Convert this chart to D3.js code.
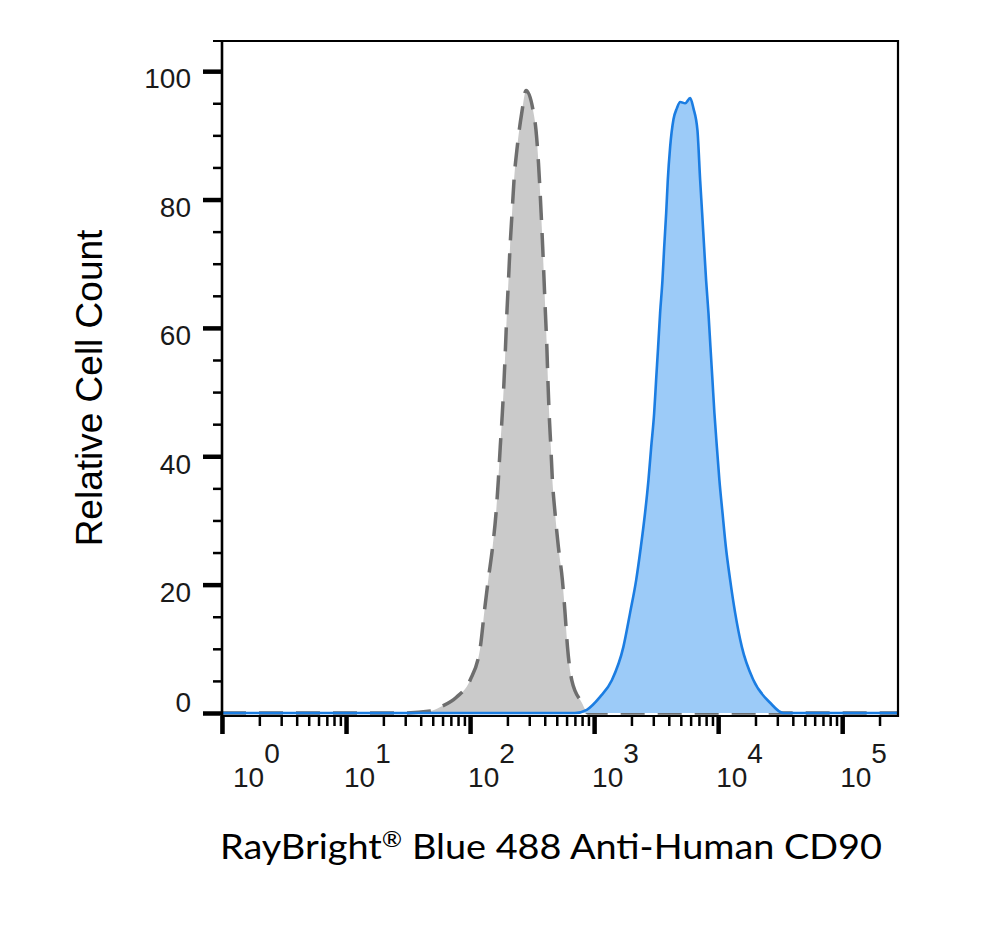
<!DOCTYPE html>
<html>
<head>
<meta charset="utf-8">
<script src="https://cdn.jsdelivr.net/npm/d3@7"></script>
<style>
  body { margin: 0; background: #fff; }
  svg { display: block; }
</style>
</head>
<body>
<script>
// intensity (channel value) and relative count
const isoX = [1, 27, 48, 57, 78, 100, 121, 130, 140, 152, 162, 169, 175, 182, 188, 193, 198, 204, 210, 218, 226, 240, 261, 283,
  322, 340, 356, 374, 385, 395, 405, 416, 424, 434, 448, 461, 484, 515, 555, 583, 610, 661, 796, 895, 282000];
const isoY = [0, 0, 0.3, 0.9, 2.5, 5.1, 10.3, 15.6, 20.7, 25.9, 31.2, 36.3, 41.4, 46.7, 51.9, 57.0, 62.3, 67.4, 72.6, 77.9, 83.0, 88.2, 93.5, 97.0,
  93.9, 90.8, 85.7, 77.9, 72.6, 67.4, 62.3, 57.0, 51.9, 46.7, 41.4, 36.3, 31.2, 25.9, 20.7, 15.6, 10.3, 5.1, 1.6, 0, 0];

const cd90X = [1, 700, 873, 1117, 1390, 1722, 1950, 2183, 2382, 2576, 2742, 2884, 3048, 3162, 3281, 3404, 3556, 3673, 3811, 3926, 4102, 4365,
  4645, 4940, 5420, 5945, 6324, 6808, 7161, 7430, 7709, 7998, 8356, 8670, 8995, 9333, 9772, 10233, 10839, 11535, 12503, 13709, 15524, 19275,
  26242, 33420, 282000];
const cd90Y = [0, 0, 0.5, 2.5, 5.1, 10.3, 15.6, 20.7, 25.9, 31.2, 36.3, 41.4, 46.7, 51.9, 57.0, 62.3, 67.4, 72.6, 77.9, 83.0, 88.2, 92.5,
  94.2, 95.2, 95.0, 95.8, 94.2, 90.8, 83.0, 77.9, 72.6, 67.4, 62.3, 57.0, 51.9, 46.7, 41.4, 36.3, 31.2, 25.9, 20.7, 15.6, 10.3, 5.1,
  1.6, 0, 0];

const yMajor = [0, 20, 40, 60, 80, 100];
const xDecades = [0, 1, 2, 3, 4, 5];
const xTitle = 'Blue 488 Anti-Human CD90';
const yTitle = 'Relative Cell Count';

const width = 1000, height = 936;
const plotLeft = 222, plotRight = 898, plotTop = 41, plotBottom = 716;

let svg = d3.select(document.body).append('svg')
  .attr('width', width)
  .attr('height', height);

let x = d3.scaleLog().domain([1, Math.pow(10, 5.45)]).range([plotLeft, plotRight]);
let y = d3.scaleLinear().domain([0, 104.7]).range([713, plotTop]);

let iso = isoX.map((v, i) => ({ x: v, y: isoY[i] }));
let cd90 = cd90X.map((v, i) => ({ x: v, y: cd90Y[i] }));

let area = d3.area()
  .x(d => x(d.x))
  .y0(y(0))
  .y1(d => y(d.y))
  .curve(d3.curveMonotoneX);
let line = d3.line()
  .x(d => x(d.x))
  .y(d => y(d.y))
  .curve(d3.curveMonotoneX);

// isotype control, grey with dashed outline
svg.append('path')
  .datum(iso)
  .attr('d', area)
  .attr('fill', '#cacaca');
svg.append('path')
  .datum(iso)
  .attr('d', line)
  .attr('fill', 'none')
  .attr('stroke', '#6e6e6e')
  .attr('stroke-width', 3.5)
  .attr('stroke-dasharray', '24,13');

// stained sample, blue
svg.append('path')
  .datum(cd90)
  .attr('d', area)
  .attr('fill', '#9ccbf8');
svg.append('path')
  .datum(cd90)
  .attr('d', line)
  .attr('fill', 'none')
  .attr('stroke', '#1b7de2')
  .attr('stroke-width', 2.6);

// frame
svg.append('path')
  .attr('d', `M${plotLeft - 9},${plotTop}H${plotRight}V${plotBottom}H${plotLeft}`)
  .attr('fill', 'none')
  .attr('stroke', '#000')
  .attr('stroke-width', 2.2);
svg.append('line')
  .attr('x1', plotLeft).attr('x2', plotLeft)
  .attr('y1', plotTop).attr('y2', 734)
  .attr('stroke', '#000')
  .attr('stroke-width', 2.6);

// y axis ticks
let yMinor = d3.range(5, 100, 5).filter(v => v % 20 !== 0);
let yAxis = svg.append('g').attr('transform', `translate(${plotLeft},0)`);
yAxis.append('g')
  .call(d3.axisLeft(y).tickValues(yMinor).tickSize(9).tickFormat(''))
  .call(g => g.select('.domain').remove())
  .call(g => g.selectAll('line').attr('stroke-width', 2.5));
yAxis.append('g')
  .call(d3.axisLeft(y).tickValues(yMajor).tickSize(19).tickPadding(12))
  .call(g => g.select('.domain').remove())
  .call(g => g.selectAll('line').attr('stroke-width', 4.5))
  .call(g => g.selectAll('text')
    .attr('font-family', '"Liberation Sans", Arial, sans-serif')
    .attr('font-size', 28)
    .attr('fill', '#1a1a1a')
    .attr('dy', d => d === 0 ? '-0.05em' : '0.6em'));

// x axis ticks
let xMinor = [];
for (let d = 0; d < 5; d++) {
  for (let m = 2; m <= 9; m++) xMinor.push(m * Math.pow(10, d));
}
xMinor.push(2e5);
let xAxis = svg.append('g').attr('transform', `translate(0,${plotBottom})`);
xAxis.append('g')
  .call(d3.axisBottom(x).tickValues(xMinor).tickSize(10).tickFormat(''))
  .call(g => g.select('.domain').remove())
  .call(g => g.selectAll('line').attr('stroke-width', 2.5));
xAxis.append('g')
  .call(d3.axisBottom(x).tickValues(xDecades.map(e => Math.pow(10, e))).tickSize(18).tickFormat(''))
  .call(g => g.select('.domain').remove())
  .call(g => g.selectAll('line').attr('stroke-width', 4.5));

let xLabels = svg.append('g')
  .attr('font-family', '"Liberation Sans", Arial, sans-serif')
  .attr('font-size', 28)
  .attr('fill', '#1a1a1a');
xDecades.forEach(e => {
  let t = xLabels.append('text')
    .attr('x', Math.max(x(Math.pow(10, e)) - 2, 233))
    .attr('y', 787);
  t.append('tspan').text('10');
  t.append('tspan').attr('dy', -24).text(e);
});

// axis titles
svg.append('text')
  .attr('transform', 'translate(102,388) rotate(-90)')
  .attr('text-anchor', 'middle')
  .attr('font-family', '"Liberation Sans", Arial, sans-serif')
  .attr('font-size', 37)
  .attr('fill', '#000')
  .text(yTitle);

let xt = svg.append('text')
  .attr('x', 220)
  .attr('y', 859)
  .attr('font-family', 'Lato, "Open Sans", sans-serif')
  .attr('font-size', 34)
  .attr('fill', '#000')
  .attr('textLength', 662)
  .attr('lengthAdjust', 'spacingAndGlyphs');
xt.append('tspan').text('RayBright');
xt.append('tspan').attr('font-size', 22).attr('dy', -12).text('®');
xt.append('tspan').attr('dy', 12).text(' ' + xTitle);
</script>
</body>
</html>
